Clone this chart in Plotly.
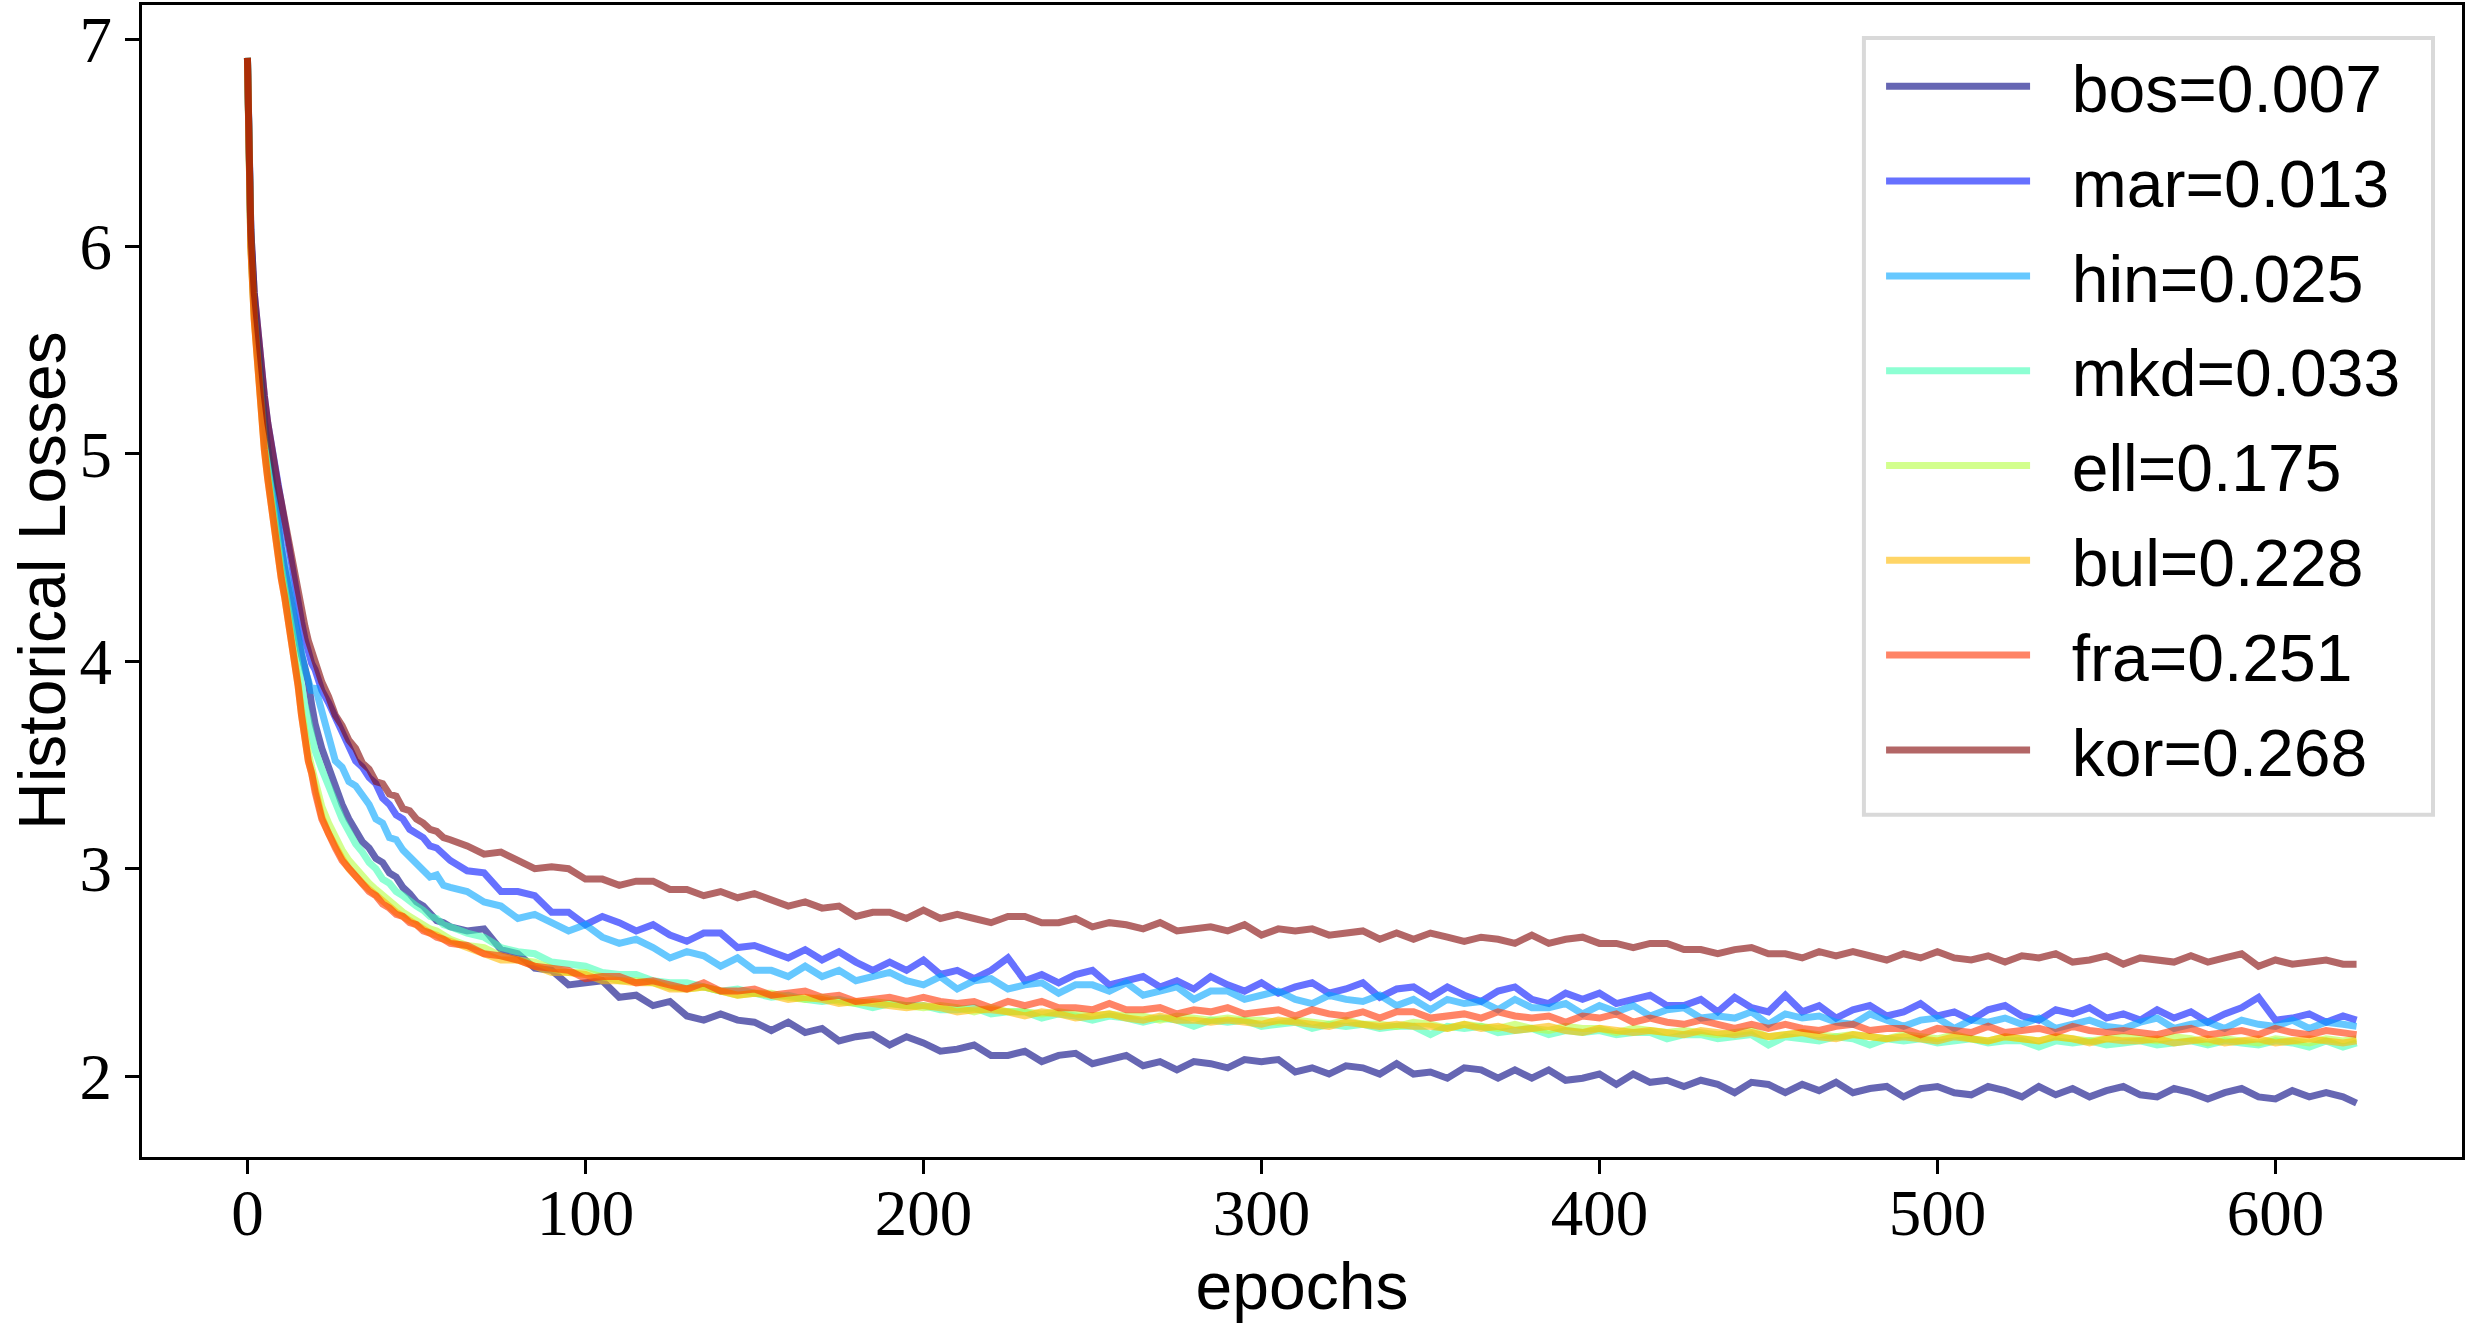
import plotly.graph_objects as go

# epochs sampled from the chart
epochs = list(range(0, 21)) + list(range(22, 61, 2)) + list(range(65, 621, 5)) + [624]

bos = [6.91, 6.05, 5.72, 5.50, 5.32, 5.16, 5.02, 4.89, 4.77, 4.66, 4.55, 4.45, 4.36, 4.27, 4.18, 4.10, 4.03, 3.97, 3.90, 3.79, 3.70,
       3.58, 3.49, 3.38, 3.31, 3.24, 3.19, 3.13, 3.10, 3.05, 3.03, 2.98, 2.96, 2.91, 2.88, 2.84, 2.82, 2.79, 2.75, 2.74, 2.72,
       2.70, 2.71, 2.61, 2.59, 2.52, 2.51, 2.44, 2.45, 2.46, 2.38,
       2.39, 2.34, 2.36, 2.29, 2.27, 2.30, 2.27, 2.26, 2.22, 2.26,
       2.21, 2.23, 2.17, 2.19, 2.20, 2.15, 2.19, 2.16, 2.12, 2.13,
       2.15, 2.10, 2.10, 2.12, 2.07, 2.10, 2.11, 2.06, 2.08, 2.10,
       2.05, 2.07, 2.03, 2.07, 2.06, 2.04, 2.08, 2.07, 2.08, 2.02,
       2.04, 2.01, 2.05, 2.04, 2.01, 2.06, 2.01, 2.02, 1.99, 2.04,
       2.03, 1.99, 2.03, 1.99, 2.03, 1.98, 1.99, 2.01, 1.96, 2.01,
       1.97, 1.98, 1.95, 1.98, 1.96, 1.92, 1.97, 1.96, 1.92, 1.96,
       1.93, 1.97, 1.92, 1.94, 1.95, 1.90, 1.94, 1.95, 1.92, 1.91,
       1.95, 1.93, 1.90, 1.95, 1.91, 1.94, 1.90, 1.93, 1.95, 1.91,
       1.90, 1.94, 1.92, 1.89, 1.92, 1.94, 1.90, 1.89, 1.93, 1.90,
       1.92, 1.90,
       1.87]

mar = [6.91, 6.08, 5.78, 5.58, 5.42, 5.28, 5.15, 5.05, 4.95, 4.86, 4.76, 4.66, 4.58, 4.50, 4.40, 4.29, 4.19, 4.11, 4.04, 3.99, 3.96,
       3.86, 3.80, 3.73, 3.65, 3.58, 3.52, 3.49, 3.44, 3.41, 3.34, 3.31, 3.26, 3.24, 3.19, 3.17, 3.15, 3.11, 3.10, 3.07, 3.04,
       2.99, 2.98, 2.89, 2.89, 2.87, 2.79, 2.79, 2.73, 2.77, 2.74,
       2.70, 2.73, 2.68, 2.65, 2.69, 2.69, 2.62, 2.63, 2.60, 2.57,
       2.61, 2.56, 2.60, 2.55, 2.51, 2.55, 2.51, 2.56, 2.49, 2.51,
       2.47, 2.51, 2.57, 2.46, 2.49, 2.45, 2.49, 2.51, 2.44, 2.46,
       2.48, 2.43, 2.46, 2.42, 2.48, 2.44, 2.41, 2.45, 2.40, 2.43,
       2.45, 2.40, 2.42, 2.45, 2.38, 2.42, 2.43, 2.38, 2.43, 2.39,
       2.36, 2.41, 2.43, 2.37, 2.35, 2.40, 2.37, 2.40, 2.35, 2.37,
       2.39, 2.34, 2.34, 2.37, 2.31, 2.38, 2.33, 2.31, 2.39, 2.31,
       2.34, 2.28, 2.32, 2.34, 2.29, 2.31, 2.35, 2.29, 2.31, 2.27,
       2.32, 2.34, 2.29, 2.27, 2.32, 2.30, 2.33, 2.28, 2.30, 2.27,
       2.32, 2.28, 2.31, 2.26, 2.30, 2.33, 2.38, 2.27, 2.28, 2.30,
       2.26, 2.29,
       2.27]

hin = [6.91, 6.05, 5.72, 5.50, 5.32, 5.16, 5.02, 4.89, 4.77, 4.66, 4.56, 4.47, 4.40, 4.31, 4.21, 4.11, 4.03, 3.96, 3.91, 3.85, 3.88,
       3.76, 3.63, 3.52, 3.49, 3.42, 3.40, 3.35, 3.31, 3.24, 3.22, 3.15, 3.14, 3.09, 3.06, 3.02, 3.00, 2.96, 2.97, 2.92, 2.91,
       2.89, 2.84, 2.82, 2.76, 2.78, 2.74, 2.70, 2.73, 2.67, 2.64,
       2.66, 2.62, 2.57, 2.60, 2.58, 2.53, 2.57, 2.51, 2.51, 2.48,
       2.53, 2.48, 2.51, 2.46, 2.48, 2.50, 2.46, 2.44, 2.48, 2.42,
       2.46, 2.47, 2.42, 2.44, 2.45, 2.40, 2.44, 2.44, 2.41, 2.45,
       2.39, 2.41, 2.43, 2.37, 2.41, 2.41, 2.37, 2.39, 2.41, 2.37,
       2.35, 2.39, 2.37, 2.36, 2.39, 2.34, 2.37, 2.32, 2.37, 2.35,
       2.36, 2.32, 2.37, 2.33, 2.33, 2.35, 2.30, 2.34, 2.31, 2.34,
       2.29, 2.32, 2.33, 2.28, 2.29, 2.28, 2.31, 2.25, 2.30, 2.28,
       2.29, 2.26, 2.25, 2.30, 2.27, 2.24, 2.27, 2.28, 2.23, 2.27,
       2.26, 2.28, 2.25, 2.28, 2.23, 2.25, 2.27, 2.24, 2.23, 2.26,
       2.28, 2.23, 2.25, 2.26, 2.23, 2.27, 2.25, 2.24, 2.27, 2.23,
       2.26, 2.25,
       2.24]

mkd = [6.91, 6.02, 5.68, 5.44, 5.25, 5.08, 4.94, 4.81, 4.69, 4.57, 4.46, 4.36, 4.26, 4.16, 4.06, 3.96, 3.87, 3.79, 3.72, 3.65, 3.57,
       3.48, 3.39, 3.32, 3.24, 3.18, 3.12, 3.08, 3.03, 3.00, 2.95, 2.93, 2.89, 2.87, 2.84, 2.82, 2.80, 2.77, 2.76, 2.73, 2.72,
       2.69, 2.67, 2.62, 2.60, 2.59, 2.55, 2.54, 2.53, 2.50, 2.49,
       2.49, 2.46, 2.45, 2.45, 2.43, 2.41, 2.42, 2.40, 2.38, 2.39,
       2.37, 2.36, 2.37, 2.35, 2.33, 2.35, 2.34, 2.34, 2.32, 2.32,
       2.33, 2.30, 2.31, 2.31, 2.28, 2.30, 2.29, 2.27, 2.29, 2.28,
       2.26, 2.28, 2.27, 2.24, 2.27, 2.26, 2.27, 2.24, 2.25, 2.26,
       2.23, 2.25, 2.24, 2.25, 2.23, 2.24, 2.24, 2.20, 2.24, 2.23,
       2.24, 2.21, 2.22, 2.23, 2.20, 2.22, 2.21, 2.22, 2.20, 2.21,
       2.21, 2.18, 2.20, 2.20, 2.18, 2.19, 2.20, 2.15, 2.19, 2.18,
       2.17, 2.19, 2.18, 2.15, 2.18, 2.17, 2.18, 2.16, 2.17, 2.18,
       2.16, 2.17, 2.17, 2.14, 2.17, 2.16, 2.17, 2.15, 2.16, 2.17,
       2.15, 2.16, 2.17, 2.15, 2.17, 2.16, 2.15, 2.17, 2.16, 2.14,
       2.17, 2.14,
       2.16]

ell = [6.91, 6.01, 5.66, 5.42, 5.22, 5.04, 4.90, 4.77, 4.65, 4.53, 4.42, 4.33, 4.23, 4.13, 4.02, 3.90, 3.77, 3.64, 3.56, 3.49, 3.42,
       3.30, 3.22, 3.15, 3.09, 3.04, 3.00, 2.96, 2.93, 2.90, 2.87, 2.84, 2.82, 2.79, 2.77, 2.75, 2.73, 2.71, 2.70, 2.68, 2.66,
       2.63, 2.62, 2.58, 2.56, 2.55, 2.52, 2.50, 2.50, 2.48, 2.46,
       2.46, 2.45, 2.43, 2.42, 2.43, 2.41, 2.39, 2.40, 2.40, 2.38,
       2.37, 2.38, 2.36, 2.35, 2.36, 2.35, 2.34, 2.33, 2.34, 2.33,
       2.31, 2.33, 2.31, 2.31, 2.30, 2.31, 2.30, 2.29, 2.30, 2.29,
       2.29, 2.27, 2.29, 2.28, 2.27, 2.28, 2.27, 2.27, 2.26, 2.27,
       2.26, 2.25, 2.27, 2.25, 2.25, 2.24, 2.26, 2.25, 2.23, 2.25,
       2.24, 2.23, 2.25, 2.23, 2.22, 2.24, 2.23, 2.23, 2.21, 2.23,
       2.22, 2.21, 2.22, 2.21, 2.20, 2.21, 2.22, 2.19, 2.20, 2.21,
       2.20, 2.19, 2.20, 2.19, 2.18, 2.20, 2.19, 2.18, 2.20, 2.18,
       2.17, 2.19, 2.18, 2.17, 2.19, 2.18, 2.17, 2.18, 2.19, 2.18,
       2.17, 2.19, 2.18, 2.16, 2.18, 2.17, 2.16, 2.18, 2.17, 2.16,
       2.18, 2.17,
       2.18]

bul = [6.91, 6.00, 5.65, 5.40, 5.20, 5.02, 4.88, 4.75, 4.63, 4.51, 4.40, 4.31, 4.21, 4.11, 4.00, 3.88, 3.74, 3.60, 3.52, 3.46, 3.38,
       3.25, 3.17, 3.10, 3.05, 3.00, 2.96, 2.93, 2.90, 2.87, 2.84, 2.81, 2.79, 2.77, 2.75, 2.73, 2.71, 2.69, 2.68, 2.66, 2.65,
       2.62, 2.59, 2.56, 2.56, 2.53, 2.50, 2.50, 2.49, 2.46, 2.46,
       2.45, 2.45, 2.42, 2.42, 2.43, 2.41, 2.39, 2.40, 2.39, 2.37,
       2.38, 2.37, 2.35, 2.36, 2.35, 2.34, 2.33, 2.34, 2.33, 2.31,
       2.32, 2.32, 2.31, 2.29, 2.31, 2.30, 2.28, 2.29, 2.30, 2.28,
       2.27, 2.29, 2.27, 2.27, 2.26, 2.27, 2.26, 2.25, 2.27, 2.26,
       2.25, 2.24, 2.26, 2.25, 2.24, 2.25, 2.24, 2.24, 2.23, 2.25,
       2.23, 2.24, 2.22, 2.23, 2.24, 2.22, 2.21, 2.23, 2.22, 2.21,
       2.22, 2.21, 2.20, 2.22, 2.21, 2.20, 2.21, 2.19, 2.20, 2.21,
       2.19, 2.18, 2.20, 2.19, 2.18, 2.19, 2.18, 2.17, 2.19, 2.18,
       2.17, 2.19, 2.18, 2.17, 2.19, 2.18, 2.16, 2.18, 2.17, 2.17,
       2.18, 2.16, 2.17, 2.18, 2.16, 2.17, 2.18, 2.16, 2.17, 2.18,
       2.17, 2.16,
       2.17]

fra = [6.91, 6.00, 5.65, 5.40, 5.20, 5.02, 4.88, 4.75, 4.63, 4.51, 4.40, 4.31, 4.21, 4.11, 4.00, 3.88, 3.74, 3.60, 3.52, 3.46, 3.37,
       3.24, 3.16, 3.10, 3.04, 3.00, 2.96, 2.92, 2.89, 2.87, 2.83, 2.81, 2.78, 2.77, 2.74, 2.73, 2.70, 2.69, 2.67, 2.66, 2.64,
       2.63, 2.59, 2.58, 2.56, 2.53, 2.52, 2.51, 2.47, 2.48, 2.48,
       2.45, 2.46, 2.44, 2.42, 2.45, 2.41, 2.41, 2.42, 2.39, 2.40,
       2.41, 2.38, 2.39, 2.36, 2.37, 2.38, 2.36, 2.38, 2.36, 2.35,
       2.36, 2.33, 2.36, 2.34, 2.36, 2.33, 2.33, 2.32, 2.35, 2.32,
       2.32, 2.33, 2.30, 2.32, 2.31, 2.33, 2.30, 2.31, 2.32, 2.29,
       2.32, 2.30, 2.29, 2.31, 2.28, 2.31, 2.31, 2.28, 2.29, 2.30,
       2.28, 2.31, 2.29, 2.28, 2.29, 2.26, 2.29, 2.28, 2.30, 2.26,
       2.28, 2.26, 2.25, 2.27, 2.25, 2.23, 2.25, 2.23, 2.25, 2.23,
       2.22, 2.24, 2.25, 2.22, 2.23, 2.23, 2.20, 2.23, 2.22, 2.21,
       2.24, 2.21, 2.22, 2.23, 2.21, 2.24, 2.22, 2.21, 2.22, 2.21,
       2.20, 2.22, 2.23, 2.20, 2.21, 2.22, 2.20, 2.23, 2.21, 2.20,
       2.22, 2.21,
       2.20]

kor = [6.91, 6.08, 5.78, 5.58, 5.42, 5.28, 5.15, 5.04, 4.94, 4.85, 4.77, 4.68, 4.60, 4.52, 4.43, 4.32, 4.24, 4.17, 4.10, 4.05, 4.01,
       3.90, 3.83, 3.74, 3.69, 3.62, 3.58, 3.51, 3.48, 3.42, 3.41, 3.36, 3.35, 3.29, 3.28, 3.24, 3.22, 3.19, 3.18, 3.15, 3.14,
       3.11, 3.07, 3.08, 3.04, 3.00, 3.01, 3.00, 2.95, 2.95, 2.92,
       2.94, 2.94, 2.90, 2.90, 2.87, 2.89, 2.86, 2.88, 2.85, 2.82,
       2.84, 2.81, 2.82, 2.77, 2.79, 2.79, 2.76, 2.80, 2.76, 2.78,
       2.76, 2.74, 2.77, 2.77, 2.74, 2.74, 2.76, 2.72, 2.74, 2.73,
       2.71, 2.74, 2.70, 2.71, 2.72, 2.70, 2.73, 2.68, 2.71, 2.70,
       2.71, 2.68, 2.69, 2.70, 2.66, 2.69, 2.66, 2.69, 2.67, 2.65,
       2.67, 2.66, 2.64, 2.68, 2.64, 2.66, 2.67, 2.64, 2.64, 2.62,
       2.64, 2.64, 2.61, 2.61, 2.59, 2.61, 2.62, 2.59, 2.59, 2.57,
       2.60, 2.58, 2.60, 2.58, 2.56, 2.59, 2.57, 2.60, 2.57, 2.56,
       2.58, 2.55, 2.58, 2.57, 2.59, 2.55, 2.56, 2.58, 2.54, 2.57,
       2.56, 2.55, 2.58, 2.55, 2.57, 2.59, 2.53, 2.56, 2.54, 2.55,
       2.56, 2.54,
       2.54]

series_values = [bos, mar, hin, mkd, ell, bul, fra, kor]
series_names = ["bos=0.007", "mar=0.013", "hin=0.025", "mkd=0.033",
                "ell=0.175", "bul=0.228", "fra=0.251", "kor=0.268"]
series_colors = ["rgba(0,0,128,0.6)", "rgba(0,18,255,0.6)", "rgba(0,164,255,0.6)",
                 "rgba(65,255,182,0.6)", "rgba(182,255,65,0.6)", "rgba(255,185,0,0.6)",
                 "rgba(255,50,0,0.6)", "rgba(128,0,0,0.6)"]

for v in series_values:
    if len(v) != len(epochs):
        raise ValueError(f"length mismatch {len(v)} vs {len(epochs)}")

x_ticks = [0, 100, 200, 300, 400, 500, 600]
y_ticks = [2, 3, 4, 5, 6, 7]

fig = go.Figure()
for name, vals, col in zip(series_names, series_values, series_colors):
    fig.add_trace(go.Scatter(
        x=epochs, y=vals, mode="lines", name="\u00a0\u00a0" + name,
        legendgroup=name,
        line=dict(color=col, width=7),
    ))

axis_common = dict(
    showline=True, linecolor="black", linewidth=3, mirror=True,
    ticks="outside", ticklen=14, tickwidth=3, tickcolor="black",
    showgrid=False, zeroline=False,
    tickfont=dict(family="Liberation Serif", size=65, color="black"),
)

# legend frame (matplotlib-style box behind the legend entries)
fig.add_shape(type="rect", xref="paper", yref="paper",
              x0=0.7422, x1=0.9875, y0=0.297, y1=0.9714,
              line=dict(color="#d9d9d9", width=4), fillcolor="white", layer="above")

# y-axis title placed like the reference
fig.add_annotation(text="Historical Losses", textangle=-90,
                   xref="paper", yref="paper", x=-0.0431, y=0.5,
                   xanchor="center", yanchor="middle", showarrow=False,
                   font=dict(family="Liberation Sans", size=66, color="black"))

fig.update_layout(
    width=2469, height=1327,
    paper_bgcolor="white", plot_bgcolor="white",
    margin=dict(l=142, r=7, t=2, b=170),
    font=dict(family="Liberation Sans", color="black"),
    xaxis=dict(range=[-31.2, 655.2], tickvals=x_ticks, ticklabelstandoff=-17, **axis_common,
               title=dict(text="epochs", font=dict(family="Liberation Sans", size=66), standoff=15)),
    yaxis=dict(range=[1.61, 7.165], tickvals=y_ticks, **axis_common),
    legend=dict(
        x=0.7496, xanchor="left", y=0.9723, yanchor="top",
        bgcolor="rgba(0,0,0,0)", borderwidth=0,
        font=dict(family="Liberation Sans", size=66, color="black"),
        itemwidth=144, tracegroupgap=6,
    ),
    showlegend=True,
)

fig.write_html("out.html")
